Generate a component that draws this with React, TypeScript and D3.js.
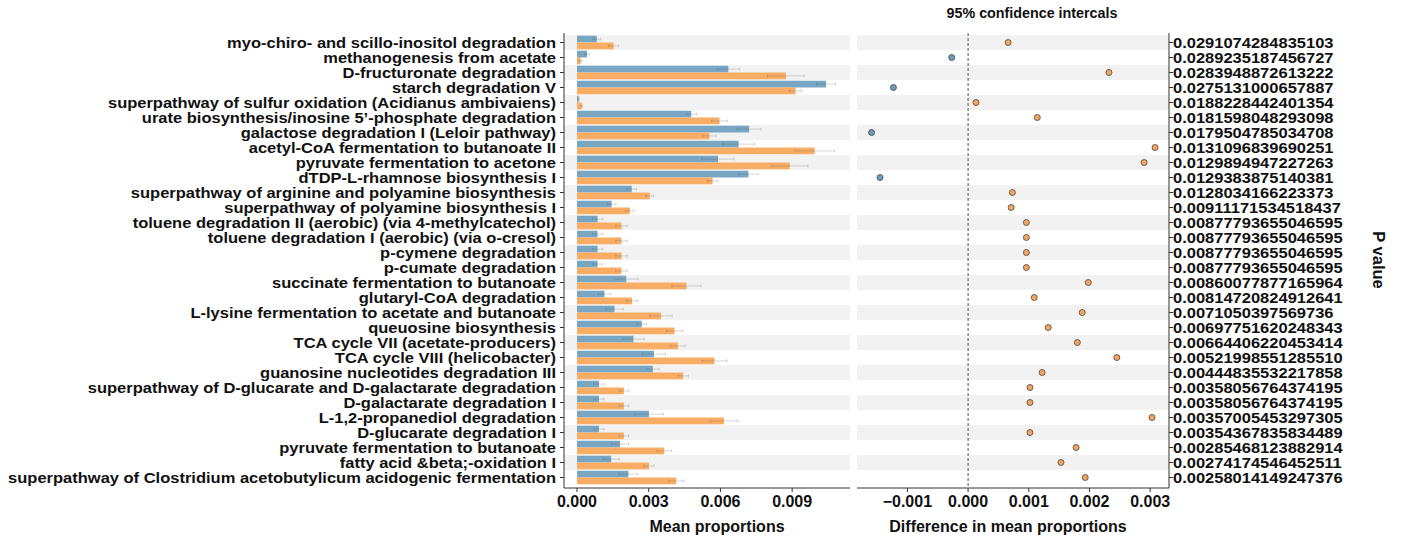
import React from "react";
import * as d3 from "d3";

const pathways = [
  "myo-chiro- and scillo-inositol degradation",
  "methanogenesis from acetate",
  "D-fructuronate degradation",
  "starch degradation V",
  "superpathway of sulfur oxidation (Acidianus ambivaiens)",
  "urate biosynthesis/inosine 5\u2019-phosphate degradation",
  "galactose degradation I (Leloir pathway)",
  "acetyl-CoA fermentation to butanoate II",
  "pyruvate fermentation to acetone",
  "dTDP-L-rhamnose biosynthesis I",
  "superpathway of arginine and polyamine biosynthesis",
  "superpathway of polyamine biosynthesis I",
  "toluene degradation II (aerobic) (via 4-methylcatechol)",
  "toluene degradation I (aerobic) (via o-cresol)",
  "p-cymene degradation",
  "p-cumate degradation",
  "succinate fermentation to butanoate",
  "glutaryl-CoA degradation",
  "L-lysine fermentation to acetate and butanoate",
  "queuosine biosynthesis",
  "TCA cycle VII (acetate-producers)",
  "TCA cycle VIII (helicobacter)",
  "guanosine nucleotides degradation III",
  "superpathway of D-glucarate and D-galactarate degradation",
  "D-galactarate degradation I",
  "L-1,2-propanediol degradation",
  "D-glucarate degradation I",
  "pyruvate fermentation to butanoate",
  "fatty acid &beta;-oxidation I",
  "superpathway of Clostridium acetobutylicum acidogenic fermentation",
];

// group 1 (blue) and group 2 (orange) mean proportions
const meanBlue = [
  0.00083, 0.00042, 0.00633, 0.01042, 0.00007, 0.00478, 0.0072, 0.00676, 0.0059, 0.00717,
  0.00229, 0.00145, 0.00086, 0.00086, 0.00086, 0.00086, 0.00206, 0.00115, 0.00157, 0.00271,
  0.00236, 0.00322, 0.00317, 0.00092, 0.00092, 0.00301, 0.00092, 0.0018, 0.00143, 0.00215,
];
const meanOrange = [
  0.00153, 0.00015, 0.00874, 0.00914, 0.0002, 0.00596, 0.00554, 0.00994, 0.0089, 0.00567,
  0.00304, 0.00221, 0.00186, 0.00186, 0.00186, 0.00186, 0.00458, 0.0023, 0.00351, 0.00408,
  0.00422, 0.00575, 0.00444, 0.00196, 0.00196, 0.00615, 0.00196, 0.00365, 0.00301, 0.00415,
];
const errBlue = [
  0.00017, 0.00011, 0.00048, 0.0004, 0.00003, 0.00022, 0.0005, 0.00067, 0.00068, 0.00041,
  0.0002, 0.00018, 0.00022, 0.00022, 0.00022, 0.00022, 0.00049, 0.00027, 0.00036, 0.0002,
  0.00045, 0.00049, 0.00026, 0.00021, 0.00021, 0.0006, 0.00021, 0.00036, 0.00034, 0.0004,
];
const errOrange = [
  0.00021, 0.00006, 0.00077, 0.00026, 0.00004, 0.00033, 0.00028, 0.00083, 0.00076, 0.00022,
  0.00016, 0.00017, 0.00024, 0.00024, 0.00024, 0.00024, 0.00061, 0.00024, 0.00047, 0.00034,
  0.0003, 0.00052, 0.00022, 0.0002, 0.0002, 0.00059, 0.0002, 0.00031, 0.00021, 0.00032,
];
const diffs = [
  0.00066, -0.00027, 0.00232, -0.00123, 0.00013, 0.00114, -0.00159, 0.00308, 0.0029, -0.00145,
  0.00073, 0.00071, 0.00096, 0.00096, 0.00096, 0.00096, 0.00198, 0.00109, 0.00188, 0.00132,
  0.0018, 0.00245, 0.00122, 0.00102, 0.00102, 0.00303, 0.00102, 0.00178, 0.00153, 0.00193,
];
const pValues = [
  "0.0291074284835103", "0.0289235187456727", "0.0283948872613222", "0.0275131000657887",
  "0.0188228442401354", "0.0181598048293098", "0.0179504785034708", "0.0131096839690251",
  "0.0129894947227263", "0.0129383875140381", "0.0128034166223373", "0.00911171534518437",
  "0.00877793655046595", "0.00877793655046595", "0.00877793655046595", "0.00877793655046595",
  "0.00860077877165964", "0.00814720824912641", "0.0071050397569736", "0.00697751620248343",
  "0.00664406220453414", "0.00521998551285510", "0.00444835532217858", "0.00358056764374195",
  "0.00358056764374195", "0.00357005453297305", "0.00354367835834489", "0.00285468123882914",
  "0.00274174546452511", "0.00258014149247376",
];
const meanTicks = [0, 0.003, 0.006, 0.009];
const diffTicks = [-0.001, 0, 0.001, 0.002, 0.003];

const BLUE = "#78A6C3";
const ORANGE = "#F9AC64";
const font = "'Liberation Sans', Arial, sans-serif";

export default function App() {
  const idx = pathways.map((_, i) => i);
  const y = d3.scaleBand<number>().domain(idx).range([35, 485]);
  const inner = d3.scaleBand<string>().domain(["b", "o"]).range([0.7, 14.3]);
  const xMean = d3.scaleLinear().domain([-0.000544, 0.01142]).range([564, 850]);
  const xDiff = d3.scaleLinear().domain([-0.00183, 0.00331]).range([857, 1169]);
  const fmt = d3.format(".3f");
  const axisTop = 33, axisBottom = 488;
  const rowY = (i: number) => (y(i) as number) + y.bandwidth() / 2;

  const errBar = (x0: number, x1: number, cy: number, key: string) => (
    <g key={key} stroke="#555" strokeOpacity={0.3} strokeWidth={0.8}>
      <line x1={x0} x2={x1} y1={cy} y2={cy} />
      <line x1={x0} x2={x0} y1={cy - 1.5} y2={cy + 1.5} />
      <line x1={x1} x2={x1} y1={cy - 1.5} y2={cy + 1.5} />
    </g>
  );

  return (
    <svg width={1407} height={540} style={{ position: "absolute", left: 0, top: 0 }} fontFamily={font} fontWeight="bold">
      <rect width={1407} height={540} fill="#fff" />
      {/* row bands */}
      {idx.filter(i => i % 2 === 0).map(i => (
        <g key={"band" + i} fill="#F2F2F2">
          <rect x={xMean.range()[0]} y={y(i)} width={xMean.range()[1] - xMean.range()[0]} height={y.bandwidth()} />
          <rect x={xDiff.range()[0]} y={y(i)} width={xDiff.range()[1] - xDiff.range()[0]} height={y.bandwidth()} />
        </g>
      ))}

      {/* mean proportion bars */}
      {idx.map(i => {
        const yb = (y(i) as number) + (inner("b") as number);
        const yo = (y(i) as number) + (inner("o") as number);
        const h = inner.bandwidth();
        return (
          <g key={"bar" + i}>
            <rect x={xMean(0)} y={yb} width={xMean(meanBlue[i]) - xMean(0)} height={h} fill={BLUE} />
            <rect x={xMean(0)} y={yo} width={xMean(meanOrange[i]) - xMean(0)} height={h} fill={ORANGE} />
            {errBar(xMean(Math.max(0, meanBlue[i] - errBlue[i])), xMean(meanBlue[i] + errBlue[i]), yb + h / 2, "eb" + i)}
            {errBar(xMean(Math.max(0, meanOrange[i] - errOrange[i])), xMean(meanOrange[i] + errOrange[i]), yo + h / 2, "eo" + i)}
          </g>
        );
      })}

      {/* left axis + labels */}
      <line x1={564} x2={564} y1={axisTop} y2={axisBottom} stroke="#333" />
      {idx.map(i => (
        <g key={"lab" + i}>
          <line x1={560} x2={564} y1={rowY(i)} y2={rowY(i)} stroke="#333" />
          <text transform={`translate(556,${rowY(i)}) scale(1,0.88)`} dy="0.36em" textAnchor="end" fontSize={16.5} fill="#111">{pathways[i]}</text>
        </g>
      ))}

      {/* bottom axis, mean proportions */}
      <line x1={564} x2={850} y1={axisBottom} y2={axisBottom} stroke="#333" />
      {meanTicks.map(t => (
        <g key={"mt" + t}>
          <line x1={xMean(t)} x2={xMean(t)} y1={axisBottom} y2={axisBottom + 4} stroke="#333" />
          <text x={xMean(t)} y={507} textAnchor="middle" fontSize={16} fill="#111">{fmt(t)}</text>
        </g>
      ))}
      <text x={717} y={532} textAnchor="middle" fontSize={16} fill="#111">Mean proportions</text>

      {/* difference panel */}
      <line x1={xDiff(0)} x2={xDiff(0)} y1={axisTop} y2={axisBottom} stroke="#555" strokeDasharray="3,2" />
      {idx.map(i => (
        <circle key={"pt" + i} cx={xDiff(diffs[i])} cy={rowY(i)} r={3}
          fill={diffs[i] < 0 ? "#6A9EC0" : "#F6A560"} stroke="#444" strokeWidth={0.8} />
      ))}
      <line x1={857} x2={1169} y1={axisBottom} y2={axisBottom} stroke="#333" />
      {diffTicks.map(t => (
        <g key={"dt" + t}>
          <line x1={xDiff(t)} x2={xDiff(t)} y1={axisBottom} y2={axisBottom + 4} stroke="#333" />
          <text x={xDiff(t)} y={507} textAnchor="middle" fontSize={16} fill="#111">{fmt(t)}</text>
        </g>
      ))}
      <text x={1008} y={532} textAnchor="middle" fontSize={16} fill="#111">Difference in mean proportions</text>
      <text x={1032} y={18} textAnchor="middle" fontSize={14.3} fill="#111">95% confidence intercals</text>

      {/* p-value axis */}
      <line x1={1169} x2={1169} y1={axisTop} y2={axisBottom} stroke="#333" />
      {idx.map(i => (
        <g key={"pv" + i}>
          <line x1={1169} x2={1173} y1={rowY(i)} y2={rowY(i)} stroke="#333" />
          <text transform={`translate(1173,${rowY(i)}) scale(1,0.88)`} dy="0.36em" fontSize={16.5} fill="#111">{pValues[i]}</text>
        </g>
      ))}
      <text transform="translate(1373,260) rotate(90)" textAnchor="middle" fontSize={16.5} fill="#111">P value</text>
    </svg>
  );
}
